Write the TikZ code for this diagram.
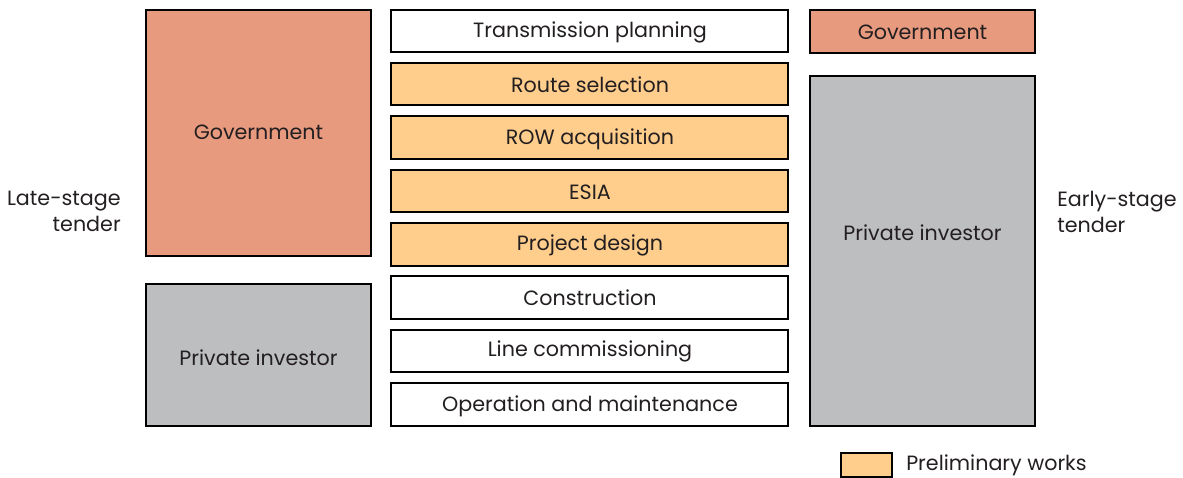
\documentclass[tikz,border=0pt]{standalone}
\usepackage{fontspec}
\setmainfont{Poppins}
\definecolor{gov}{HTML}{E89A7F}
\definecolor{priv}{HTML}{BDBEC0}
\definecolor{prelim}{HTML}{FFCD8C}
\definecolor{txt}{HTML}{231F20}
\begin{document}
\begin{tikzpicture}[x=0.75pt,y=-0.75pt,
  box/.style={draw=black,line width=1.5pt,inner sep=0pt,text=txt},
  lbl/.style={text=txt,font=\fontsize{15.5}{19.5}\selectfont,inner sep=0pt,yshift=-0.5pt}]
\useasboundingbox (0,0) rectangle (1183,478);
\def\bx#1#2#3#4#5#6{\node[box,fill=#6,minimum width=(#3-#1)*0.75pt,minimum height=(#4-#2)*0.75pt] (#5) at ({(#1+#3)/2},{(#2+#4)/2})}
\bx{146}{10}{371}{256}{govL}{gov} {};
\bx{146}{284}{371}{426}{privL}{priv} {};
\bx{391}{10}{788}{52}{s1}{white} {};
\bx{391}{63}{788}{105}{s2}{prelim} {};
\bx{391}{116}{788}{159}{s3}{prelim} {};
\bx{391}{170}{788}{212}{s4}{prelim} {};
\bx{391}{223}{788}{266}{s5}{prelim} {};
\bx{391}{276}{788}{319}{s6}{white} {};
\bx{391}{330}{788}{372}{s7}{white} {};
\bx{391}{383}{788}{426}{s8}{white} {};
\bx{810}{10}{1035}{53}{govR}{gov} {};
\bx{810}{76}{1035}{426}{privR}{priv} {};
\bx{841}{453}{892}{477}{leg}{prelim} {};
\node[lbl] (tgovL) at (258.5,132) {Government};
\node[lbl] (tprivL) at (258.5,357) {Private investor};
\node[lbl] (t1) at (590,32) {Transmission planning};
\node[lbl] (t2) at (590,84) {Route selection};
\node[lbl] (t3) at (590,139) {ROW acquisition};
\node[lbl] (t4) at (590,192) {ESIA};
\node[lbl] (t5) at (590,245) {Project design};
\node[lbl] (t6) at (590,297) {Construction};
\node[lbl] (t7) at (590,351) {Line commissioning};
\node[lbl] (t8) at (590,406) {Operation and maintenance};
\node[lbl] (tgovR) at (922.5,32) {Government};
\node[lbl] (tprivR) at (922.5,232) {Private investor};
\node[lbl,anchor=west] (legt) at (906,465) {Preliminary works};
\node[lbl,anchor=east,align=right] (late) at (121,211) {Late-stage\\tender};
\node[lbl,anchor=west,align=left] (early) at (1057,211) {Early-stage\\tender};
\end{tikzpicture}
\end{document}
